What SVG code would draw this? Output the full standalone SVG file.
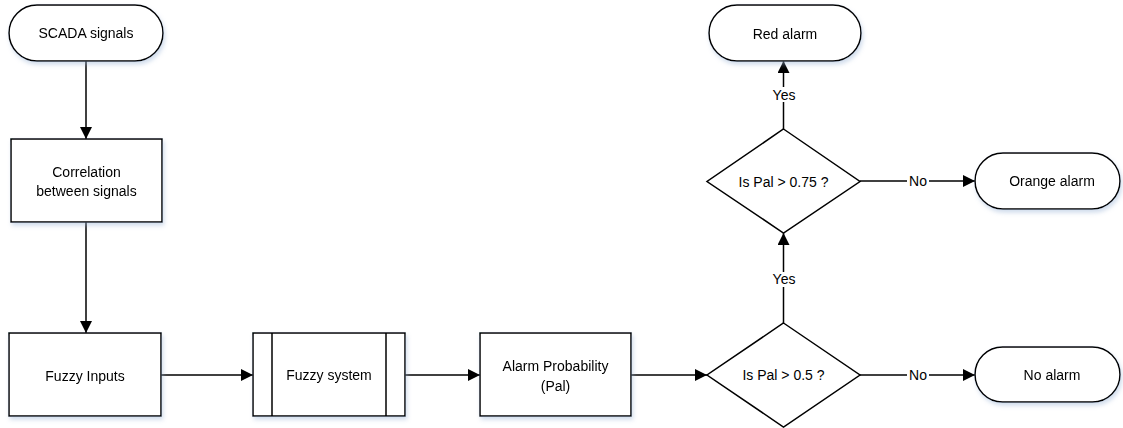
<svg xmlns="http://www.w3.org/2000/svg" width="1123" height="428" viewBox="0 0 1123 428">
<style>
.s{fill:#fff;stroke:#000;stroke-width:1.5}
.t{font-family:"Liberation Sans",Arial,sans-serif;font-size:14px;fill:#000;text-anchor:middle;dominant-baseline:central}
.c{fill:none;stroke:#000;stroke-width:1.5}
.lb{fill:#fff}
</style>
<defs>
<marker id="ah" viewBox="0 0 12 12" refX="12" refY="6" markerWidth="12" markerHeight="12" markerUnits="userSpaceOnUse" orient="auto">
<path d="M0,0 L12,6 L0,12 z" fill="#000"/>
</marker>
<filter id="sh" x="-10%" y="-10%" width="130%" height="140%">
<feDropShadow dx="1.5" dy="3" stdDeviation="2" flood-color="#9ab3d6" flood-opacity="0.45"/>
</filter>
</defs>
<g id="connectors">
<path class="c" d="M86,61 V139" marker-end="url(#ah)"/>
<path class="c" d="M86,222 V333" marker-end="url(#ah)"/>
<path class="c" d="M161,375 H253" marker-end="url(#ah)"/>
<path class="c" d="M405,375 H480" marker-end="url(#ah)"/>
<path class="c" d="M631,375 H707" marker-end="url(#ah)"/>
<path class="c" d="M860,375 H975" marker-end="url(#ah)"/>
<path class="c" d="M783.5,323 V233" marker-end="url(#ah)"/>
<path class="c" d="M860,181 H975" marker-end="url(#ah)"/>
<path class="c" d="M783.5,129 V61" marker-end="url(#ah)"/>
<rect class="lb" x="907" y="368" width="22" height="14"/>
<text class="t" x="918" y="375">No</text>
<rect class="lb" x="907" y="174" width="22" height="14"/>
<text class="t" x="918" y="181">No</text>
<rect class="lb" x="770" y="272" width="27" height="15"/>
<text class="t" x="784" y="279">Yes</text>
<rect class="lb" x="770" y="87" width="27" height="15"/>
<text class="t" x="784" y="95">Yes</text>
</g>
<g id="scada" filter="url(#sh)">
<rect class="s" x="9" y="5" width="154" height="56" rx="28"/>
<text class="t" x="86" y="33">SCADA signals</text>
</g>
<g id="correlation" filter="url(#sh)">
<rect class="s" x="11" y="139" width="151" height="83"/>
<text class="t" x="86.5" y="172">Correlation</text>
<text class="t" x="86.5" y="191">between signals</text>
</g>
<g id="fuzzy-inputs" filter="url(#sh)">
<rect class="s" x="9" y="333" width="152" height="83"/>
<text class="t" x="85" y="376">Fuzzy Inputs</text>
</g>
<g id="fuzzy-system" filter="url(#sh)">
<rect class="s" x="253" y="333" width="152" height="83"/>
<path class="c" d="M272,333 V416 M386,333 V416"/>
<text class="t" x="329" y="375">Fuzzy system</text>
</g>
<g id="alarm-prob" filter="url(#sh)">
<rect class="s" x="480" y="333" width="151" height="83"/>
<text class="t" x="555.5" y="366">Alarm Probability</text>
<text class="t" x="555.5" y="386">(Pal)</text>
</g>
<g id="dec1">
<path class="s" d="M783.5,323 L860,375 L783.5,427 L707,375 Z"/>
<text class="t" x="783.5" y="375">Is Pal &gt; 0.5 ?</text>
</g>
<g id="dec2">
<path class="s" d="M783.5,129 L860,181.5 L783.5,233 L707,181.5 Z"/>
<text class="t" x="783.5" y="181.5">Is Pal &gt; 0.75 ?</text>
</g>
<g id="no-alarm" filter="url(#sh)">
<rect class="s" x="975" y="347" width="145" height="55" rx="27.5"/>
<text class="t" x="1052" y="375">No alarm</text>
</g>
<g id="orange-alarm" filter="url(#sh)">
<rect class="s" x="975" y="153" width="145" height="56" rx="28"/>
<text class="t" x="1052" y="181">Orange alarm</text>
</g>
<g id="red-alarm" filter="url(#sh)">
<rect class="s" x="709" y="5" width="152" height="56" rx="28"/>
<text class="t" x="785" y="34">Red alarm</text>
</g>
</svg>
